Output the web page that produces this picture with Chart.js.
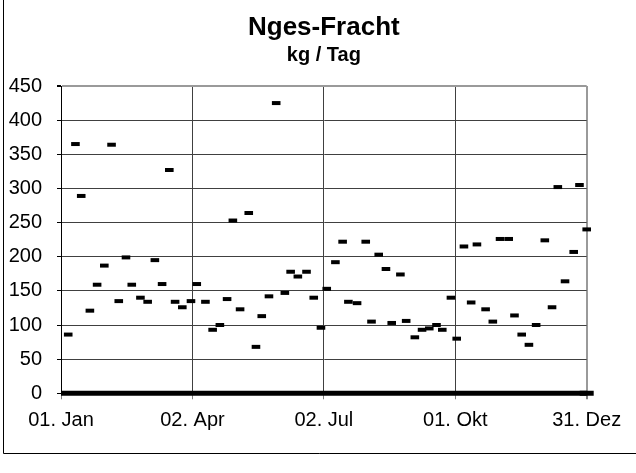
<!DOCTYPE html>
<html>
<head>
<meta charset="utf-8">
<script src="https://cdn.jsdelivr.net/npm/chart.js@4/dist/chart.umd.min.js"></script>
<style>
html,body{margin:0;padding:0;background:#fff;}
canvas{display:block;}
</style>
</head>
<body>
<canvas id="c" width="636" height="473"></canvas>
<script>
// Day of year (0 = 01. Jan) of each measurement
const sampleDays = [5,10,14,20,25,30,35,40,45,49,55,60,65,70,75,79,84,90,94,100,105,110,115,119,124,130,135,139,144,149,155,159,164,170,175,180,184,190,195,199,205,211,215,220,225,229,235,239,245,250,255,260,264,270,274,279,284,288,294,299,304,310,314,319,324,329,335,340,344,349,355,359,364];
// Nges-Fracht, kg / Tag
const loadValues = [86,365,289,121,159,187,364,135,199,159,140,134,195,160,327,134,126,135,160,134,93,100,138,253,123,264,68,113,142,425,147,178,171,178,140,96,153,192,222,134,132,222,105,203,182,103,174,106,82,93,95,100,93,140,80,215,133,218,123,105,226,226,114,86,71,100,224,126,302,164,207,305,240];
// zero-load baseline series
const zeroDays = [0, 364];
const zeroValues = [0, 0];
// x axis ticks
const tickDays = [0, 91, 182, 273, 364];
const tickLabels = ['01. Jan', '02. Apr', '02. Jul', '01. Okt', '31. Dez'];
// y axis
const yMin = 0, yMax = 450, yStep = 50;

const FONT = 'Arial, "Liberation Sans", sans-serif';

const framePlugin = {
  id: 'frame',
  beforeDraw(chart) {
    const ctx = chart.ctx;
    ctx.save();
    ctx.fillStyle = '#fff';
    ctx.fillRect(0, 0, chart.width, chart.height);
    ctx.restore();
  },
  afterDraw(chart) {
    const ctx = chart.ctx;
    ctx.save();
    ctx.strokeStyle = '#000';
    ctx.lineWidth = 1;
    ctx.beginPath();
    ctx.moveTo(3.5, 0);
    ctx.lineTo(3.5, 453.5);
    ctx.lineTo(chart.width, 453.5);
    ctx.stroke();
    ctx.restore();
  }
};

new Chart(document.getElementById('c'), {
  type: 'scatter',
  data: {
    datasets: [
      {
        label: 'Nges-Fracht',
        data: sampleDays.map((d, i) => ({x: d, y: loadValues[i]})),
        showLine: false,
        pointStyle: 'line',
        pointRadius: 4.3,
        pointBorderWidth: 4,
        borderColor: '#000',
        backgroundColor: '#000',
        clip: false
      },
      {
        type: 'line',
        label: 'zero',
        data: zeroDays.map((d, i) => ({x: d, y: zeroValues[i]})),
        borderColor: '#000',
        borderWidth: 5,
        pointStyle: 'line',
        pointRadius: [0, 7],
        pointBorderWidth: 5,
        clip: {left: 0, right: 12, top: 12, bottom: 12}
      }
    ]
  },
  options: {
    responsive: false,
    animation: false,
    events: [],
    layout: {padding: {left: 0, top: 0, bottom: 0, right: 49.3}},
    plugins: {
      legend: {display: false},
      tooltip: {enabled: false},
      title: {
        display: true,
        text: 'Nges-Fracht',
        color: '#000',
        fullSize: false,
        font: {family: FONT, size: 26, weight: 'bold'},
        padding: {top: 12, bottom: 0}
      },
      subtitle: {
        display: true,
        text: 'kg / Tag',
        color: '#000',
        fullSize: false,
        font: {family: FONT, size: 20, weight: 'bold'},
        padding: {top: 0, bottom: 18.8}
      }
    },
    scales: {
      x: {
        type: 'linear',
        min: tickDays[0],
        max: tickDays[tickDays.length - 1],
        afterBuildTicks: s => { s.ticks = tickDays.map(v => ({value: v})); },
        afterFit: s => { s.height = 79.7; },
        ticks: {
          autoSkip: false,
          maxRotation: 0,
          color: '#000',
          padding: 9,
          font: {family: FONT, size: 20},
          callback: v => tickLabels[tickDays.indexOf(v)]
        },
        grid: {
          color: c => (c.tick && c.tick.value === 364) ? '#9a9a9a' : '#404040',
          lineWidth: c => (c.tick && c.tick.value === 364) ? 2 : 1,
          tickLength: 6,
          tickColor: '#808080'
        },
        border: {color: '#000', width: 1}
      },
      y: {
        min: yMin,
        max: yMax,
        afterFit: s => { s.width = 61; },
        ticks: {
          stepSize: yStep,
          color: '#000',
          padding: 15,
          font: {family: FONT, size: 20}
        },
        grid: {
          color: c => (c.tick && c.tick.value === 450) ? '#9a9a9a' : '#404040',
          lineWidth: c => (c.tick && c.tick.value === 450) ? 2 : 1,
          tickLength: 4,
          tickColor: '#000'
        },
        border: {color: '#000', width: 1}
      }
    }
  },
  plugins: [framePlugin]
});
</script>
</body>
</html>
